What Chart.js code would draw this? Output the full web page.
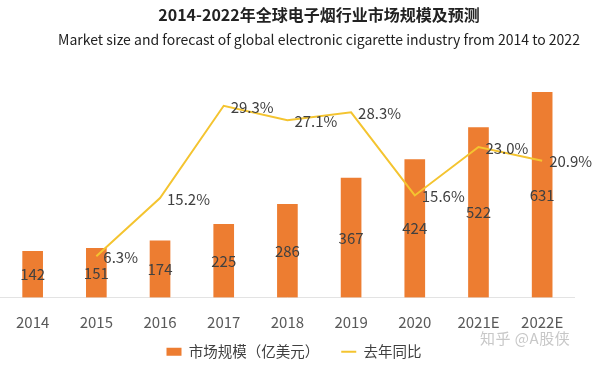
<!DOCTYPE html>
<html lang="zh">
<head>
<meta charset="UTF-8">
<title>2014-2022年全球电子烟行业市场规模及预测</title>
<script src="https://cdn.jsdelivr.net/npm/chart.js"></script>
<style>
  body { margin: 0; background: #fff; font-family: "Noto Sans CJK SC", sans-serif; }
  #wrap { position: relative; width: 600px; height: 365px; overflow: hidden; }
  #title { position: absolute; top: 4px; left: 19px; width: 600px; text-align: center;
           font-size: 16px; line-height: 20px; font-weight: bold; color: #222; }
  #subtitle { position: absolute; top: 30px; left: 19px; width: 600px; text-align: center;
              font-size: 14px; line-height: 18px; color: #222; }
  #mark { position: absolute; left: 480px; top: 329px; font-size: 15px; line-height: 18px;
          letter-spacing: 0.5px; color: #c8c8c8; }
</style>
</head>
<body>
<div id="wrap">
  <canvas id="chart" width="600" height="365"></canvas>
  <div id="title">2014-2022年全球电子烟行业市场规模及预测</div>
  <div id="subtitle">Market size and forecast of global electronic cigarette industry from 2014 to 2022</div>
  <div id="mark">知乎 @A股侠</div>
</div>
<script>
  // data
  const years = ['2014', '2015', '2016', '2017', '2018', '2019', '2020', '2021E', '2022E'];
  const marketSize = [142, 151, 174, 225, 286, 367, 424, 522, 631];     // 亿美元
  const growth = [null, 6.3, 15.2, 29.3, 27.1, 28.3, 15.6, 23.0, 20.9];   // %

  const FONT = '"Noto Sans CJK SC", sans-serif';
  const ORANGE = '#ED7D31';
  const YELLOW = '#F4C430';

  // value labels: bars in the middle, line points to the right
  const valueLabels = {
    id: 'valueLabels',
    afterDatasetsDraw(chart) {
      const ctx = chart.ctx;
      ctx.save();
      ctx.font = '15px ' + FONT;
      ctx.fillStyle = '#404040';
      ctx.textBaseline = 'middle';

      ctx.textAlign = 'center';
      chart.getDatasetMeta(0).data.forEach((bar, i) => {
        ctx.fillText(marketSize[i], bar.x, (bar.y + bar.base) / 2);
      });

      ctx.textAlign = 'left';
      chart.getDatasetMeta(1).data.forEach((pt, i) => {
        if (growth[i] == null) return;
        ctx.fillText(growth[i].toFixed(1) + '%', pt.x + 7, pt.y + 1);
      });
      ctx.restore();
    }
  };

  // move the legend up under the axis labels and a little to the right
  const legendShift = {
    id: 'legendShift',
    afterLayout(chart) {
      const lg = chart.legend;
      lg.left += 7;
      lg.right += 7;
      lg.top -= 25;
      lg.bottom -= 25;
    }
  };

  new Chart(document.getElementById('chart'), {
    data: {
      labels: years,
      datasets: [
        {
          type: 'bar',
          label: '市场规模（亿美元）',
          data: marketSize,
          backgroundColor: ORANGE,
          barThickness: 20,
          yAxisID: 'y',
          order: 2,
          pointStyle: 'rect'
        },
        {
          type: 'line',
          label: '去年同比',
          data: growth,
          borderColor: YELLOW,
          backgroundColor: YELLOW,
          borderWidth: 2,
          pointRadius: 0,
          tension: 0,
          yAxisID: 'y1',
          order: 1,
          pointStyle: 'line'
        }
      ]
    },
    options: {
      responsive: false,
      animation: false,
      layout: { padding: { top: 60, left: 0, right: 26, bottom: -29 } },
      scales: {
        x: {
          grid: { display: false, drawTicks: false },
          border: { display: true, color: '#e3e3e3' },
          ticks: { color: '#595959', font: { family: FONT, size: 15 }, padding: 16 }
        },
        y: { display: false, min: 0, max: 730 },
        y1: { display: false, min: 0, max: 36.3 }
      },
      plugins: {
        title: { display: false },
        tooltip: { enabled: false },
        legend: {
          position: 'bottom',
          labels: {
            usePointStyle: true,
            pointStyleWidth: 15,
            boxHeight: 8,
            color: '#404040',
            font: { family: FONT, size: 14.5 },
            padding: 22,
            sort: (a, b) => a.datasetIndex - b.datasetIndex
          }
        }
      }
    },
    plugins: [valueLabels, legendShift]
  });
</script>
</body>
</html>
